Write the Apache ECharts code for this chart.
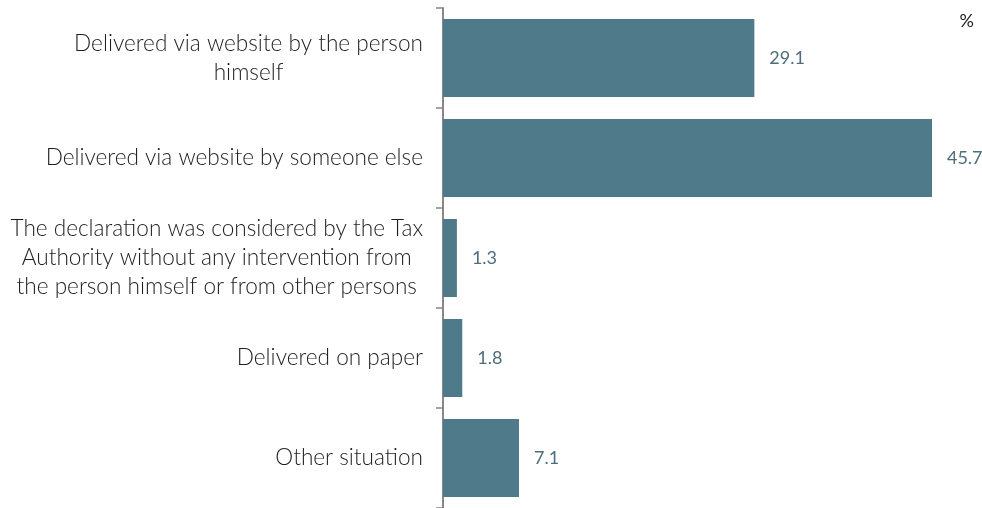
<!DOCTYPE html>
<html>
<head>
<meta charset="utf-8">
<script src="https://cdn.jsdelivr.net/npm/echarts@6/dist/echarts.min.js"></script>
<style>
html, body { margin: 0; padding: 0; background: #fff; }
#chart { width: 982px; height: 508px; }
</style>
</head>
<body>
<div id="chart"></div>
<script>
// categories (top to bottom) and shares in %
var categories = [
    'Delivered via website by the person\nhimself',
    'Delivered via website by someone else',
    'The declaration was considered by the Tax\nAuthority without any intervention from\nthe person himself or from other persons',
    'Delivered on paper',
    'Other situation'
]
var values = [29.1, 45.7, 1.3, 1.8, 7.1]

var chart = echarts.init(document.getElementById('chart'))

var option = {
    animation: false,
    textStyle: { fontFamily: 'Lato' },
    grid: {
        top: 8,
        bottom: 0,
        left: 443,
        right: 4,
        containLabel: false
    },
    xAxis: {
        type: 'value',
        min: 0,
        max: 50,
        show: false
    },
    yAxis: {
        type: 'category',
        inverse: true,
        data: categories,
        axisLine: {
            show: true,
            lineStyle: { color: '#888', width: 2 }
        },
        axisTick: {
            show: true,
            inside: false,
            length: 7,
            lineStyle: { color: '#888', width: 1.5 }
        },
        axisLabel: {
            margin: 20,
            // centre each line inside the right-aligned block
            formatter: function (v) {
                return v.split('\n').map(function (l) { return '{c|' + l + '}' }).join('\n')
            },
            rich: {
                c: {
                    align: 'center',
                    fontSize: 22.6,
                    fontFamily: 'Lato',
                    fontWeight: 300,
                    color: '#1e1e1e',
                    lineHeight: 29
                }
            }
        }
    },
    graphic: [{
        type: 'text',
        right: 8,
        top: 12,
        style: {
            text: '%',
            fontSize: 18,
            fontFamily: 'Lato',
            fill: '#222'
        }
    }],
    series: [{
        type: 'bar',
        data: values,
        barCategoryGap: '22%',
        itemStyle: { color: '#4e7a8a' },
        label: {
            show: true,
            position: 'right',
            distance: 15,
            fontSize: 18,
            fontFamily: 'Lato',
            color: '#4e6e7c',
            formatter: function (p) { return p.value.toFixed(1) }
        }
    }]
}

chart.setOption(option)
</script>
</body>
</html>
